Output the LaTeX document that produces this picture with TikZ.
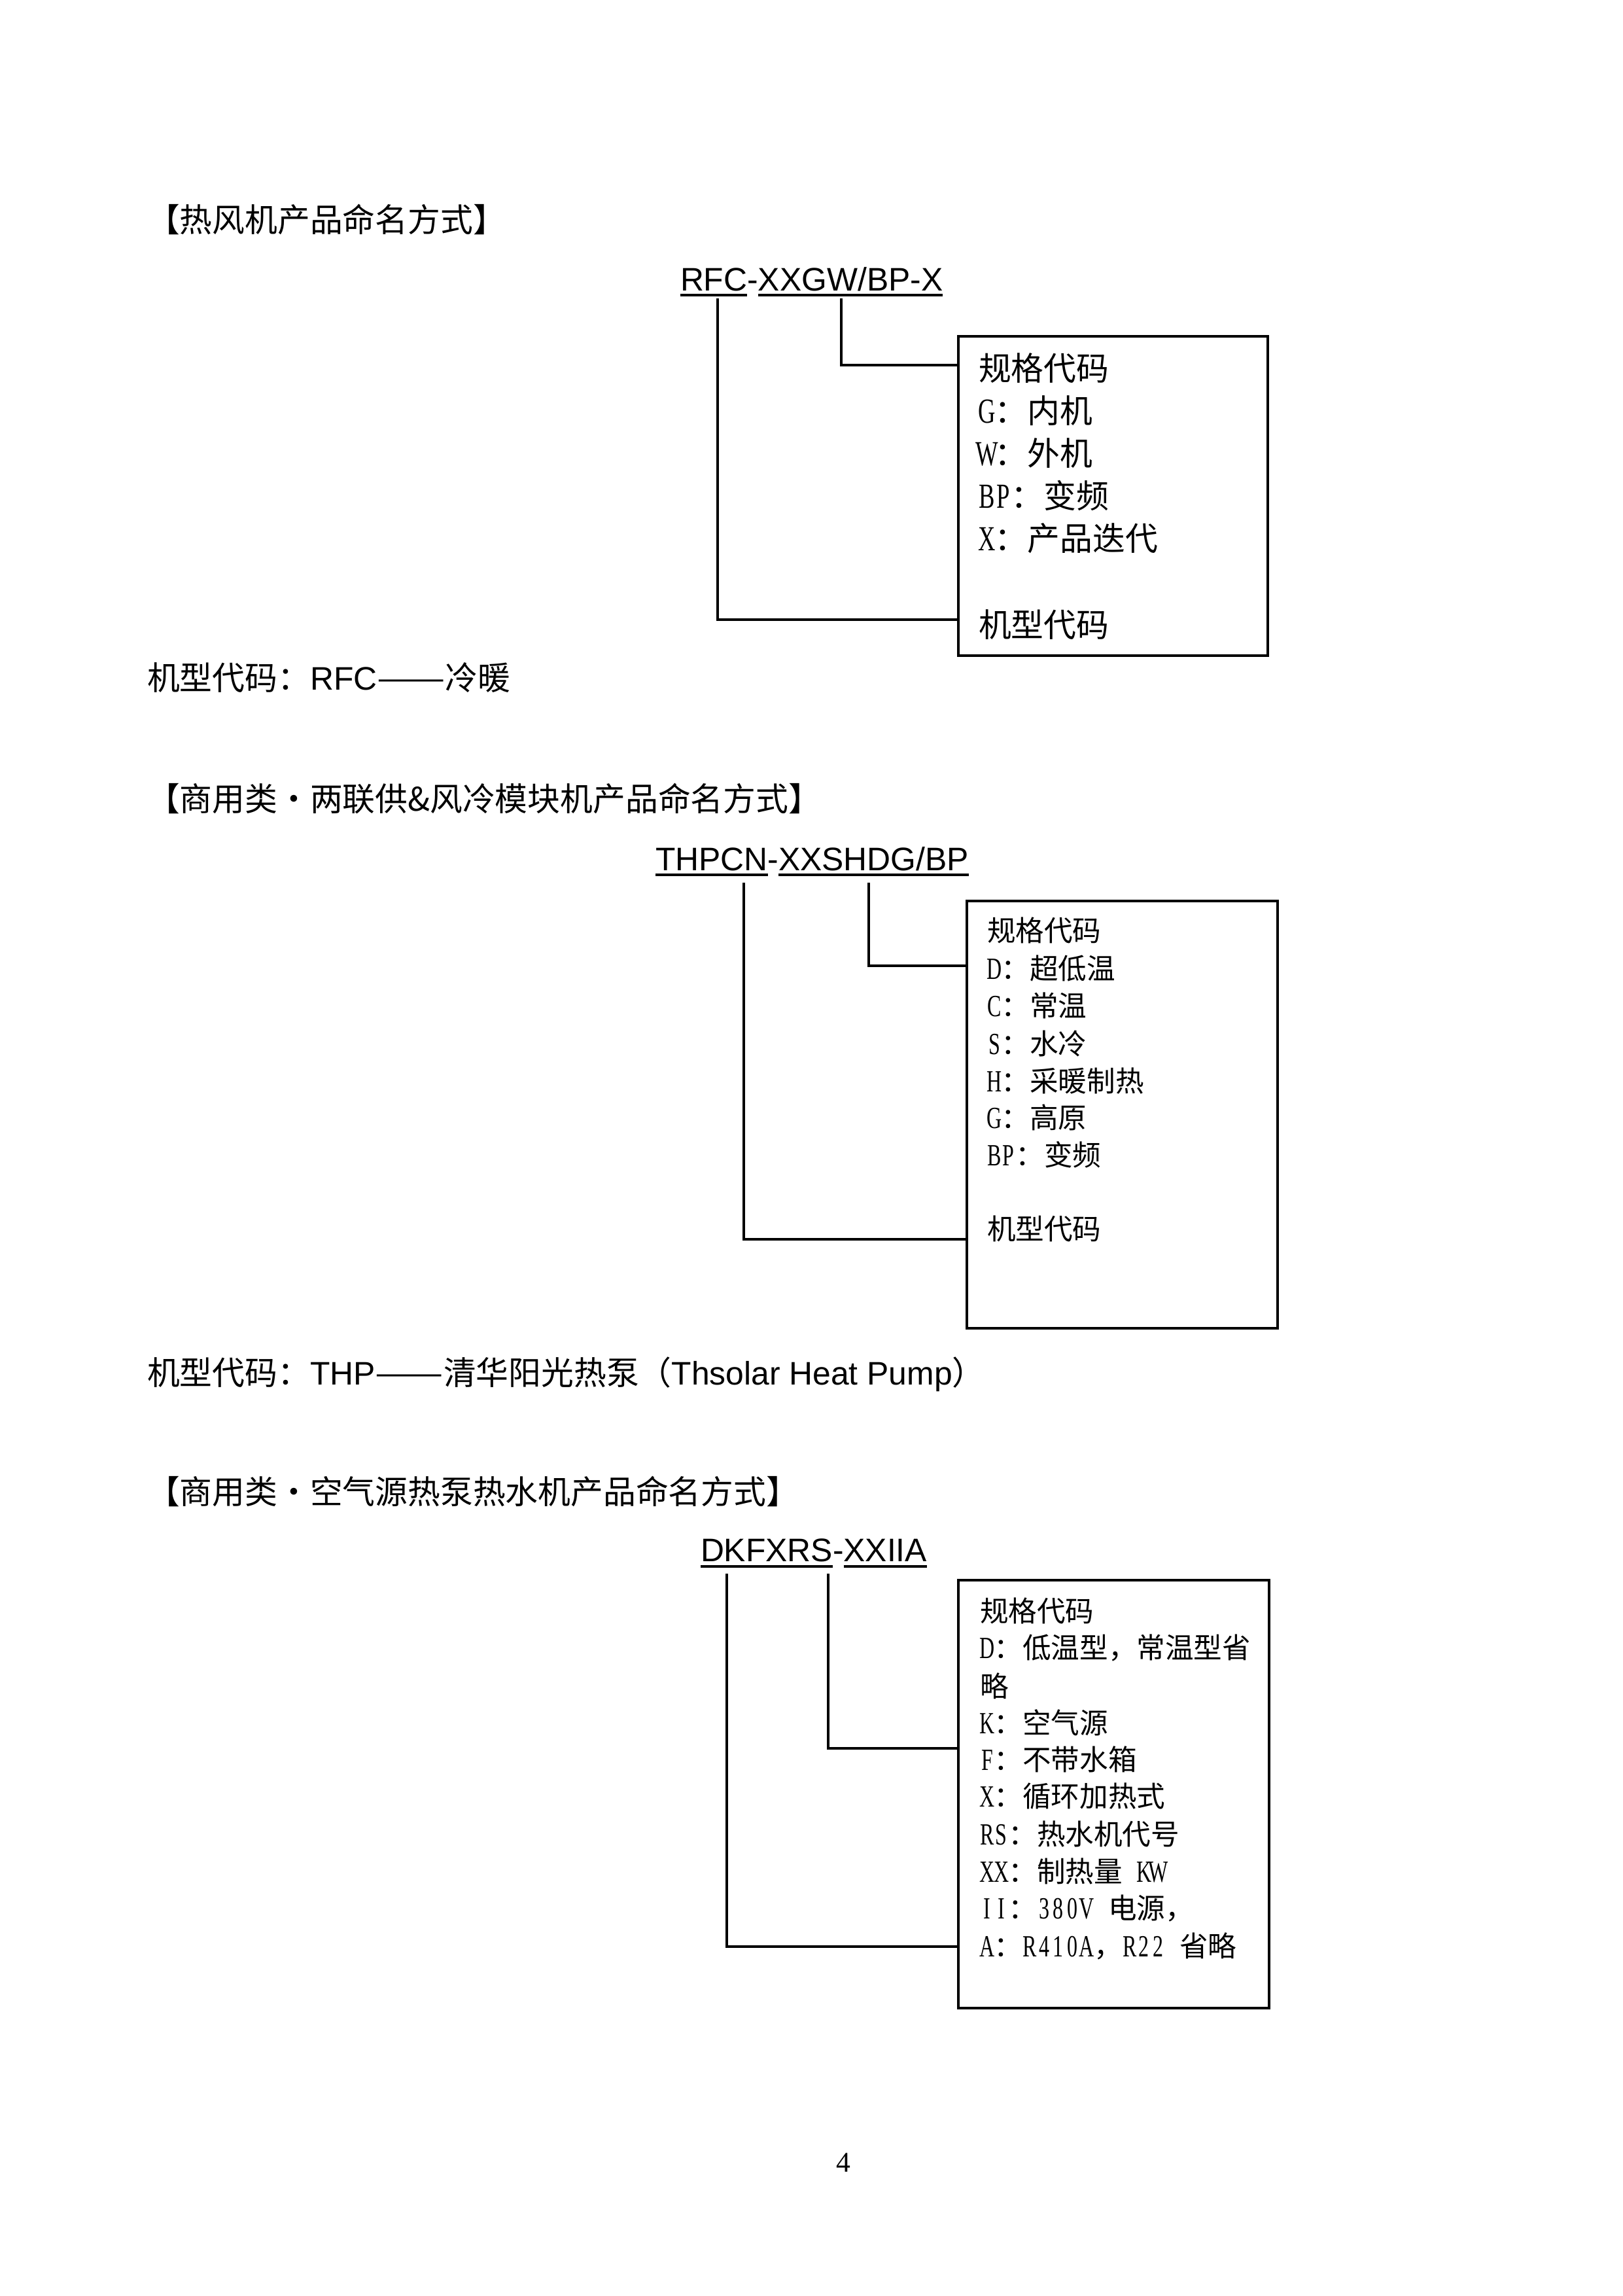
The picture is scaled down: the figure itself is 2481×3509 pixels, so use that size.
\documentclass[tikz,border=0pt]{standalone}
\usepackage{fontspec}
\usepackage{graphicx}
\setmainfont{Liberation Serif}
\newfontfamily\cjk{Noto Sans CJK SC}
\newfontfamily\arialf{Liberation Sans}
\newfontfamily\latf[FakeStretch=0.68,Scale=1.08]{Liberation Serif}
\usetikzlibrary{fit,calc}
\newcommand{\zh}[1]{{\cjk #1}}
\newcommand{\hw}[1]{\makebox[0.5em][c]{\latf #1}}
\newcommand{\ddash}{\scalebox{1.25}[1]{——}}
\begin{document}
\begin{tikzpicture}[x=0.0846667mm, y=-0.0846667mm,
  every node/.style={inner sep=0pt, outer sep=0pt},
  heading/.style={anchor=base west, font=\cjk\fontsize{12}{14}\selectfont},
  code/.style={anchor=base west, font=\arialf\fontsize{12}{14}\selectfont},
  itemA/.style={anchor=base west, font=\fontsize{12}{14}\selectfont},
  itemB/.style={anchor=base west, font=\fontsize{10.5}{12}\selectfont},
  frame/.style={draw, line width=1.1pt, inner sep=0pt},
  conn/.style={line width=1.1pt},
  uline/.style={line width=1pt},
]
\fill[white] (0,0) rectangle (2481,3509);
\useasboundingbox (0,0) rectangle (2481,3509);

% ---------------- Section 1 ----------------
\node[heading] (t1) at (225,354) {【热风机产品命名方式】};
\node[code] (h1a) at (1040,444) {RFC};
\node[code] (h1d) at (h1a.base east) {-};
\node[code] (h1b) at (h1d.base east) {XXGW/BP-X};
\draw[uline] ($(h1a.base west)+(0,7)$) -- ($(h1a.base east)+(0,7)$);
\draw[uline] ($(h1b.base west)+(0,7)$) -- ($(h1b.base east)+(0,7)$);
\node[frame, fit={(1465,514)(1938,1002)}] (box1) {};
\coordinate (s1L) at (1097,456);
\coordinate (s1R) at (1286,456);
\draw[conn] (s1L) |- (box1.west |- 0,947);
\draw[conn] (s1R) |- (box1.west |- 0,558);
\node[itemA] (b1l1) at (1496,581) {\zh{规格代码}};
\node[itemA] (b1l2) at (1496,646) {\hw{G}\zh{：内机}};
\node[itemA] (b1l3) at (1496,711) {\hw{W}\zh{：外机}};
\node[itemA] (b1l4) at (1496,776) {\hw{B}\hw{P}\zh{：变频}};
\node[itemA] (b1l5) at (1496,841) {\hw{X}\zh{：产品迭代}};
\node[itemA] (b1l6) at (1496,973) {\zh{机型代码}};
\node[heading] (n1) at (225,1054) {机型代码：{\arialf RFC}\ddash 冷暖};

% ---------------- Section 2 ----------------
\node[heading] (t2) at (225,1239) {【商用类•两联供\&风冷模块机产品命名方式】};
\node[code] (h2a) at (1002,1330) {THPCN};
\node[code] (h2d) at (h2a.base east) {-};
\node[code] (h2b) at (h2d.base east) {XXSHDG/BP};
\draw[uline] ($(h2a.base west)+(0,7)$) -- ($(h2a.base east)+(0,7)$);
\draw[uline] ($(h2b.base west)+(0,7)$) -- ($(h2b.base east)+(0,7)$);
\node[frame, fit={(1478,1377)(1953,2030)}] (box2) {};
\coordinate (s2L) at (1137,1349);
\coordinate (s2R) at (1328,1349);
\draw[conn] (s2L) |- (box2.west |- 0,1894);
\draw[conn] (s2R) |- (box2.west |- 0,1476);
\node[itemB] (b2l1) at (1509,1438) {\zh{规格代码}};
\node[itemB] (b2l2) at (1509,1496) {\hw{D}\zh{：超低温}};
\node[itemB] (b2l3) at (1509,1553) {\hw{C}\zh{：常温}};
\node[itemB] (b2l4) at (1509,1611) {\hw{S}\zh{：水冷}};
\node[itemB] (b2l5) at (1509,1668) {\hw{H}\zh{：采暖制热}};
\node[itemB] (b2l6) at (1509,1724) {\hw{G}\zh{：高原}};
\node[itemB] (b2l7) at (1509,1781) {\hw{B}\hw{P}\zh{：变频}};
\node[itemB] (b2l8) at (1509,1894) {\zh{机型代码}};
\node[heading] (n2) at (225,2116) {机型代码：{\arialf THP}\ddash 清华阳光热泵（{\arialf Thsolar Heat Pump}）};

% ---------------- Section 3 ----------------
\node[heading] (t3) at (225,2298) {【商用类•空气源热泵热水机产品命名方式】};
\node[code] (h3a) at (1071,2386) {DKFXRS};
\node[code] (h3d) at (h3a.base east) {-};
\node[code] (h3b) at (h3d.base east) {XXIIA};
\draw[uline] ($(h3a.base west)+(0,8)$) -- ($(h3a.base east)+(0,8)$);
\draw[uline] ($(h3b.base west)+(0,8)$) -- ($(h3b.base east)+(0,8)$);
\node[frame, fit={(1465,2415)(1940,3069)}] (box3) {};
\coordinate (s3L) at (1111,2405);
\coordinate (s3R) at (1266,2405);
\draw[conn] (s3L) |- (box3.west |- 0,2975);
\draw[conn] (s3R) |- (box3.west |- 0,2672);
\node[itemB] (b3l1) at (1498,2478) {\zh{规格代码}};
\node[itemB] (b3l2) at (1498,2534) {\hw{D}\zh{：低温型，常温型省}};
\node[itemB] (b3l3) at (1498,2593) {\zh{略}};
\node[itemB] (b3l4) at (1498,2649) {\hw{K}\zh{：空气源}};
\node[itemB] (b3l5) at (1498,2705) {\hw{F}\zh{：不带水箱}};
\node[itemB] (b3l6) at (1498,2761) {\hw{X}\zh{：循环加热式}};
\node[itemB] (b3l7) at (1498,2819) {\hw{R}\hw{S}\zh{：热水机代号}};
\node[itemB] (b3l8) at (1498,2876) {\hw{X}\hw{X}\zh{：制热量}\hspace{0.5em}\hw{K}\hw{W}};
\node[itemB] (b3l9) at (1498,2932) {\hw{I}\hw{I}\zh{：}\hw{3}\hw{8}\hw{0}\hw{V}\hspace{0.5em}\zh{电源，}};
\node[itemB] (b3l10) at (1498,2990) {\hw{A}\zh{：}\hw{R}\hw{4}\hw{1}\hw{0}\hw{A}\zh{，}\hw{R}\hw{2}\hw{2}\hspace{0.5em}\zh{省略}};

\node[font=\fontsize{10.5}{12}\selectfont] (pg) at (1289,3305) {4};
\end{tikzpicture}
\end{document}
